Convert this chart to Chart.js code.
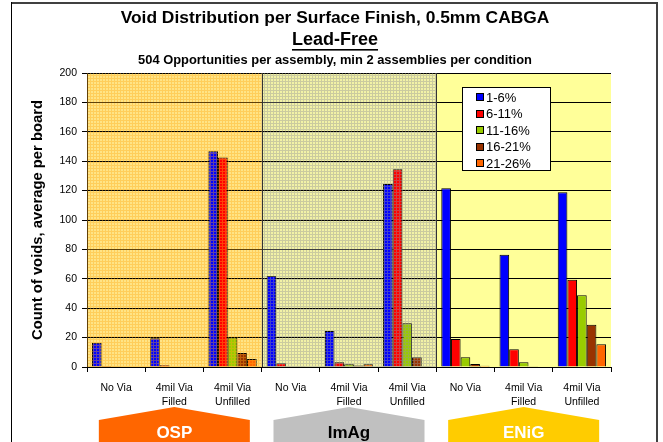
<!DOCTYPE html>
<html>
<head>
<meta charset="utf-8">
<script src="https://cdn.jsdelivr.net/npm/chart.js@4.4.0/dist/chart.umd.min.js"></script>
<style>
  html, body { margin: 0; padding: 0; background: #ffffff; }
  #wrap { width: 663px; height: 442px; position: relative; }
</style>
</head>
<body>
<div id="wrap"><canvas id="c"></canvas></div>
<script>
// ---- data ----
const categories = ['No Via', ['4mil Via', 'Filled'], ['4mil Via', 'Unfilled'],
                    'No Via', ['4mil Via', 'Filled'], ['4mil Via', 'Unfilled'],
                    'No Via', ['4mil Via', 'Filled'], ['4mil Via', 'Unfilled']];
const seriesNames = ['1-6%', '6-11%', '11-16%', '16-21%', '21-26%'];
const voids1to6   = [16.5, 19.5, 146.7, 61.9, 24.5, 124.5, 121.6, 76.4, 118.8];
const voids6to11  = [0.6, 1.2, 142.6, 2.5, 3.2, 134.5, 19.0, 12.0, 59.4];
const voids11to16 = [0.5, 0, 20.0, 0.5, 1.8, 29.7, 6.6, 3.2, 48.8];
const voids16to21 = [0, 0, 9.5, 0.5, 1.1, 6.6, 2.0, 0.5, 28.8];
const voids21to26 = [0, 0, 5.4, 0, 1.8, 0.5, 0.9, 0, 15.4];
const finishes = ['OSP', 'ImAg', 'ENiG'];
const yTicks = [0, 20, 40, 60, 80, 100, 120, 140, 160, 180, 200];
const titleLines = ['Void Distribution per Surface Finish, 0.5mm CABGA', 'Lead-Free',
                    '504 Opportunities per assembly, min 2 assemblies per condition'];
const yTitle = 'Count of voids, average per board';

// ---- styles ----
const seriesColors = ['#0000FF', '#FF0000', '#99CC00', '#993300', '#FF6600'];
const regionBase = ['#FFE486', '#F2F2A6', '#FFFF99'];
const regionLines = ['rgba(255,170,20,0.38)', 'rgba(150,150,150,0.42)', null];
const shapeFill = ['#FF6600', '#C0C0C0', '#FFCC00'];
const shapeText = ['#FFFFFF', '#000000', '#FFFFFF'];
const FONT = '"Liberation Sans", Arial, sans-serif';

function makePattern(ctx, color) {
  const c = document.createElement('canvas');
  c.width = 3; c.height = 3;
  const g = c.getContext('2d');
  g.fillStyle = color;
  g.fillRect(0, 0, 3, 1);
  g.fillRect(0, 1, 1, 2);
  return ctx.createPattern(c, 'repeat');
}

function regionBounds(chart, r) {
  const x = chart.scales.x;
  const half = (x.getPixelForValue(1) - x.getPixelForValue(0)) / 2;
  return [x.getPixelForValue(r * 3) - half, x.getPixelForValue(r * 3 + 2) + half];
}

const decor = {
  id: 'decor',
  beforeDraw(chart) {
    const ctx = chart.ctx, a = chart.chartArea;
    ctx.save();
    ctx.fillStyle = '#fff';
    ctx.fillRect(0, 0, chart.width, chart.height);
    for (let r = 0; r < 3; r++) {
      const [l, rr] = regionBounds(chart, r);
      ctx.fillStyle = regionBase[r];
      ctx.fillRect(l, a.top, rr - l, a.bottom - a.top);
    }
    ctx.restore();
  },
  afterDatasetsDraw(chart) {
    const ctx = chart.ctx, a = chart.chartArea;
    ctx.save();
    for (let r = 0; r < 3; r++) {
      const [l, rr] = regionBounds(chart, r);
      if (regionLines[r]) {
        ctx.fillStyle = makePattern(ctx, regionLines[r]);
        ctx.fillRect(l, a.top, rr - l, a.bottom - a.top);
      }
    }
    // region separators
    ctx.strokeStyle = '#333';
    ctx.lineWidth = 1;
    for (let r = 1; r < 3; r++) {
      const [l] = regionBounds(chart, r);
      ctx.beginPath();
      ctx.moveTo(Math.round(l) + 0.5, a.top);
      ctx.lineTo(Math.round(l) + 0.5, a.bottom);
      ctx.stroke();
    }
    // legend
    const lx = 462.5, ly = 87.5, lw = 88, lh = 83;
    ctx.fillStyle = '#fff';
    ctx.fillRect(lx, ly, lw, lh);
    ctx.strokeStyle = '#000';
    ctx.strokeRect(lx, ly, lw, lh);
    ctx.font = '13px ' + FONT;
    ctx.textBaseline = 'middle';
    ctx.textAlign = 'left';
    chart.data.datasets.forEach((ds, i) => {
      const cy = 97 + i * 16.5;
      ctx.fillStyle = ds.backgroundColor;
      ctx.fillRect(476, Math.round(cy) - 4, 7, 7);
      ctx.strokeStyle = '#000';
      ctx.strokeRect(476.5, Math.round(cy) - 3.5, 7, 7);
      ctx.fillStyle = '#000';
      ctx.fillText(ds.label, 486, cy + 1);
    });
    ctx.restore();
  },
  afterDraw(chart) {
    const ctx = chart.ctx, x = chart.scales.x;
    ctx.save();
    // titles
    ctx.fillStyle = '#000';
    ctx.textAlign = 'center';
    ctx.textBaseline = 'middle';
    const cx = 335;
    ctx.font = 'bold 17.4px ' + FONT;
    ctx.fillText(titleLines[0], cx, 18);
    ctx.font = 'bold 18px ' + FONT;
    ctx.fillText(titleLines[1], cx, 40);
    const w = ctx.measureText(titleLines[1]).width;
    ctx.fillRect(cx - w / 2, 49, w, 1.6);
    ctx.font = 'bold 12.9px ' + FONT;
    ctx.fillText(titleLines[2], cx, 60);
    // bottom finish shapes
    for (let r = 0; r < 3; r++) {
      const c = x.getPixelForValue(r * 3 + 1);
      const hw = 75.5;
      ctx.fillStyle = shapeFill[r];
      ctx.beginPath();
      ctx.moveTo(c - hw, 420);
      ctx.lineTo(c, 407);
      ctx.lineTo(c + hw, 420);
      ctx.lineTo(c + hw, 445);
      ctx.lineTo(c - hw, 445);
      ctx.closePath();
      ctx.fill();
      ctx.fillStyle = shapeText[r];
      ctx.font = 'bold 17px ' + FONT;
      ctx.fillText(finishes[r], c, 433);
    }
    // frame
    ctx.fillStyle = '#404040';
    ctx.fillRect(11, 2, 647, 2);
    ctx.fillRect(656, 2, 2, 442);
    ctx.fillStyle = '#000';
    ctx.fillRect(11, 2, 1, 442);
    ctx.restore();
  }
};

const seriesData = [voids1to6, voids6to11, voids11to16, voids16to21, voids21to26];

new Chart(document.getElementById('c'), {
  type: 'bar',
  data: {
    labels: categories,
    datasets: seriesNames.map((n, i) => ({
      label: n,
      data: seriesData[i],
      backgroundColor: seriesColors[i],
      borderColor: '#000',
      borderWidth: 1,
      borderSkipped: 'bottom',
      categoryPercentage: 0.83,
      barPercentage: 1.0
    }))
  },
  options: {
    responsive: true,
    maintainAspectRatio: false,
    animation: false,
    devicePixelRatio: 1,
    layout: { padding: { left: 25, right: 52, top: 73, bottom: 0 } },
    plugins: { legend: { display: false }, title: { display: false }, tooltip: { enabled: false } },
    scales: {
      x: {
        grid: { drawOnChartArea: false, drawTicks: true, tickLength: 5, color: '#000', offset: true },
        border: { color: '#000', width: 1 },
        ticks: { color: '#000', font: { family: FONT, size: 10.5, lineHeight: 1.35 }, padding: 9, maxRotation: 0, autoSkip: false },
        afterFit(s) { s.height = 75; }
      },
      y: {
        min: 0, max: 200,
        afterBuildTicks(s) { s.ticks = yTicks.map(v => ({ value: v })); },
        grid: { color: '#000', lineWidth: 1, tickLength: 5, drawTicks: true },
        border: { color: '#000', width: 1 },
        ticks: { color: '#000', font: { family: FONT, size: 10.5 }, padding: 5 },
        title: { display: true, text: yTitle, color: '#000', font: { family: FONT, size: 14.8, weight: 'bold' }, padding: { top: 4, bottom: 4 } },
        afterFit(s) { s.width = 62; }
      }
    }
  },
  plugins: [decor]
});
</script>
</body>
</html>
